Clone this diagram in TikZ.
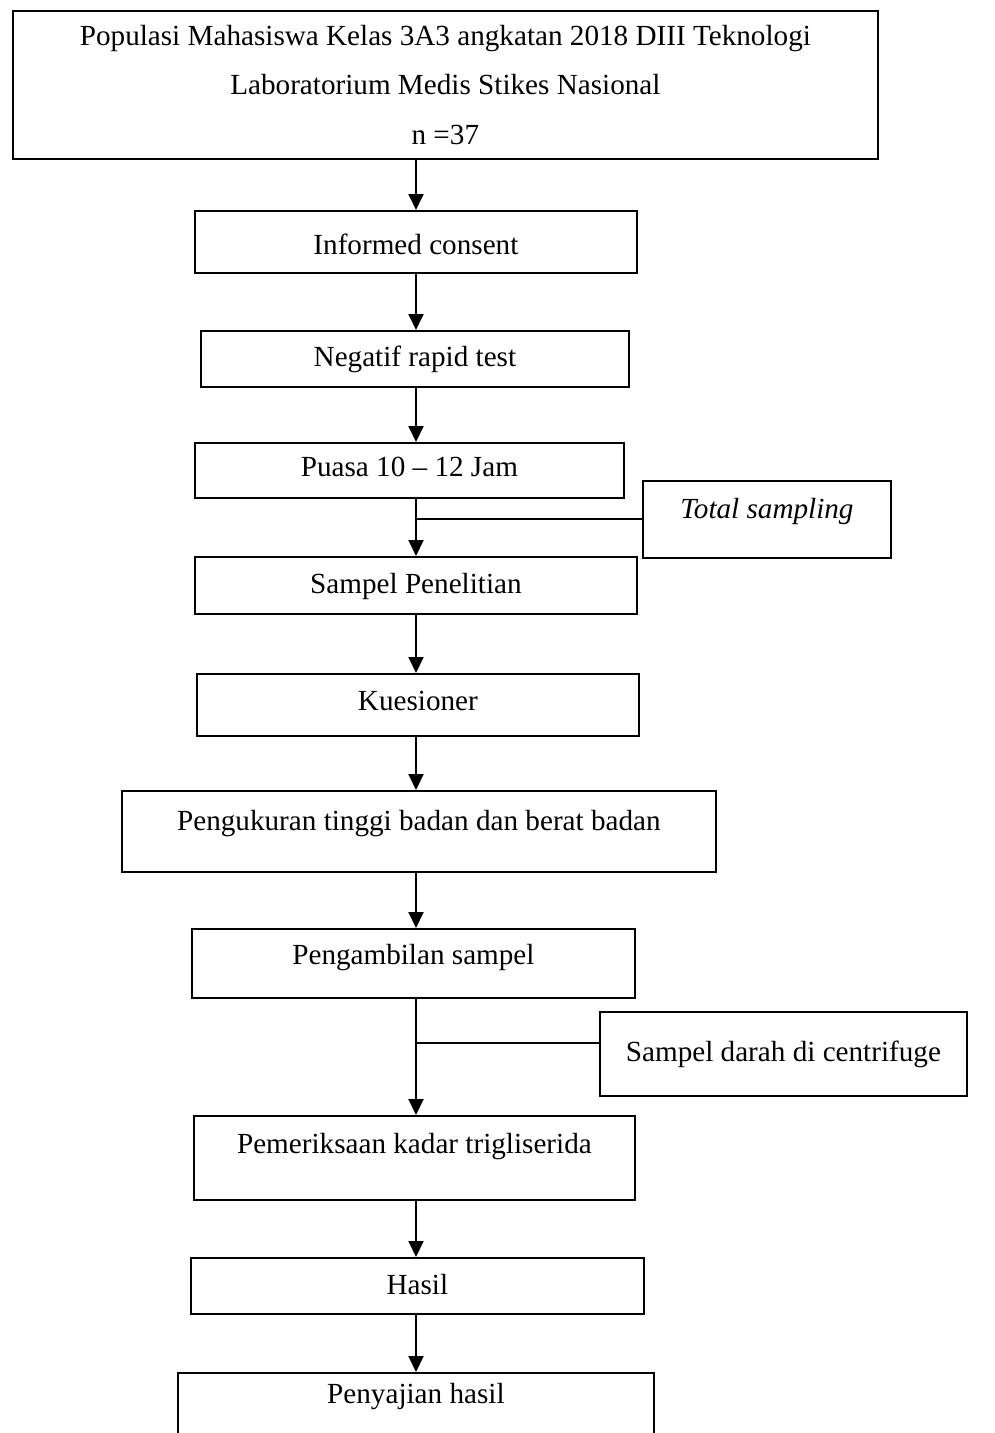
\documentclass[tikz,border=0pt]{standalone}
\usepackage{fontspec}
\setmainfont{Liberation Serif}
\usetikzlibrary{arrows.meta}

\tikzset{
  box/.style={draw=black, line width=1.1pt, inner sep=0pt, anchor=north west,
              font=\fontsize{16.6}{28.2}\selectfont},
  arr/.style={black, line width=1.1pt, -{Triangle[length=0.32cm,width=0.30cm]}},
  link/.style={black, line width=1.1pt}
}

\begin{document}
\begin{tikzpicture}[x=0.02cm, y=-0.02cm]
\clip (0,0) rectangle (994,1433);
\coordinate (spine) at (416,0);

\node[box, minimum width=17.30cm, minimum height=2.96cm, align=center] (pop) at (12,10)
  {Populasi Mahasiswa Kelas 3A3 angkatan 2018 DIII Teknologi\\
   Laboratorium Medis Stikes Nasional\\ n =37};
\node[box, minimum width=8.84cm, text height=0.88cm, text depth=0.36cm] (consent) at (194,210) {Informed consent};
\node[box, minimum width=8.56cm, text height=0.72cm, text depth=0.40cm] (rapid) at (200,330) {Negatif rapid test};
\node[box, minimum width=8.58cm, text height=0.68cm, text depth=0.42cm] (puasa) at (194,442) {Puasa 10 -- 12 Jam};
\node[box, minimum width=4.96cm, text height=0.76cm, text depth=0.78cm] (sampling) at (642,480) {\textit{Total sampling}};
\node[box, minimum width=8.84cm, text height=0.74cm, text depth=0.40cm] (sampel) at (194,556) {Sampel Penelitian};
\node[box, minimum width=8.84cm, text height=0.74cm, text depth=0.50cm] (kuesioner) at (196,673) {Kuesioner};
\node[box, minimum width=11.88cm, text height=0.80cm, text depth=0.82cm] (ukur) at (121,790) {Pengukuran tinggi badan dan berat badan};
\node[box, minimum width=8.86cm, text height=0.72cm, text depth=0.66cm] (ambil) at (191,928) {Pengambilan sampel};
\node[box, minimum width=7.34cm, text height=1.00cm, text depth=0.68cm] (darah) at (599,1011) {Sampel darah di centrifuge};
\node[box, minimum width=8.82cm, text height=0.76cm, text depth=0.92cm] (periksa) at (193,1115) {Pemeriksaan kadar trigliserida};
\node[box, minimum width=9.06cm, text height=0.74cm, text depth=0.38cm] (hasil) at (190,1257) {Hasil};
\node[box, minimum width=9.52cm, text height=0.62cm, text depth=0.74cm] (saji) at (177,1372) {Penyajian hasil};

% main flow
\draw[arr] (pop.south -| spine) -- (consent.north -| spine);
\draw[arr] (consent.south -| spine) -- (rapid.north -| spine);
\draw[arr] (rapid.south -| spine) -- (puasa.north -| spine);
\draw[arr] (puasa.south -| spine) -- (sampel.north -| spine);
\draw[arr] (sampel.south -| spine) -- (kuesioner.north -| spine);
\draw[arr] (kuesioner.south -| spine) -- (ukur.north -| spine);
\draw[arr] (ukur.south -| spine) -- (ambil.north -| spine);
\draw[arr] (ambil.south -| spine) -- (periksa.north -| spine);
\draw[arr] (periksa.south -| spine) -- (hasil.north -| spine);
\draw[arr] (hasil.south -| spine) -- (saji.north -| spine);

% side boxes
\draw[link] (sampling.west) -- (sampling.west -| spine);
\draw[link] ([yshift=0.22cm]darah.west) -- ([yshift=0.22cm]darah.west -| spine);
\end{tikzpicture}
\end{document}
